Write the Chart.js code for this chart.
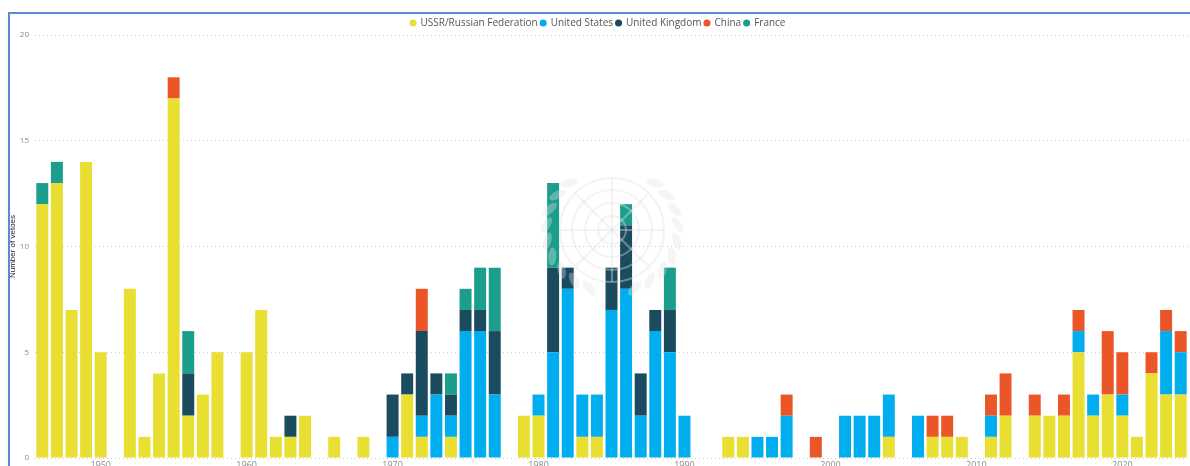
<!DOCTYPE html>
<html>
<head>
<meta charset="utf-8">
<script src="https://cdn.jsdelivr.net/npm/chart.js@4"></script>
<style>
  html, body { margin: 0; padding: 0; background: #fff; }
  #wrap { position: relative; width: 1190px; height: 466px; }
</style>
</head>
<body>
<div id="wrap"><canvas id="vetoChart"></canvas></div>
<script>
const years = [];
for (let y = 1946; y <= 2024; y++) years.push(y);

// vetoes per year, 1946..2024
const ussr = [
  12, 13, 7, 14, 5, 0, 8, 1, 4, 17, 2, 3, 5, 0, // 1946-1959
  5, 7, 1, 1, 2, 0, 1, 0, 1, 0, // 1960-1969
  0, 3, 1, 0, 1, 0, 0, 0, 0, 2, // 1970-1979
  2, 0, 0, 1, 1, 0, 0, 0, 0, 0, // 1980-1989
  0, 0, 0, 1, 1, 0, 0, 0, 0, 0, // 1990-1999
  0, 0, 0, 0, 1, 0, 0, 1, 1, 1, // 2000-2009
  0, 1, 2, 0, 2, 2, 2, 5, 2, 3, // 2010-2019
  2, 1, 4, 3, 3, // 2020-2024
];
const usa = [
  0, 0, 0, 0, 0, 0, 0, 0, 0, 0, 0, 0, 0, 0,
  0, 0, 0, 0, 0, 0, 0, 0, 0, 0,
  1, 0, 1, 3, 1, 6, 6, 3, 0, 0,
  1, 5, 8, 2, 2, 7, 8, 2, 6, 5,
  2, 0, 0, 0, 0, 1, 1, 2, 0, 0,
  0, 2, 2, 2, 2, 0, 2, 0, 0, 0,
  0, 1, 0, 0, 0, 0, 0, 1, 1, 0,
  1, 0, 0, 3, 2,
];
const uk = [
  0, 0, 0, 0, 0, 0, 0, 0, 0, 0, 2, 0, 0, 0,
  0, 0, 0, 1, 0, 0, 0, 0, 0, 0,
  2, 1, 4, 1, 1, 1, 1, 3, 0, 0,
  0, 4, 1, 0, 0, 2, 3, 2, 1, 2,
  0, 0, 0, 0, 0, 0, 0, 0, 0, 0,
  0, 0, 0, 0, 0, 0, 0, 0, 0, 0,
  0, 0, 0, 0, 0, 0, 0, 0, 0, 0,
  0, 0, 0, 0, 0,
];
const china = [
  0, 0, 0, 0, 0, 0, 0, 0, 0, 1, 0, 0, 0, 0,
  0, 0, 0, 0, 0, 0, 0, 0, 0, 0,
  0, 0, 2, 0, 0, 0, 0, 0, 0, 0,
  0, 0, 0, 0, 0, 0, 0, 0, 0, 0,
  0, 0, 0, 0, 0, 0, 0, 1, 0, 1,
  0, 0, 0, 0, 0, 0, 0, 1, 1, 0,
  0, 1, 2, 0, 1, 0, 1, 1, 0, 3,
  2, 0, 1, 1, 1,
];
const france = [
  1, 1, 0, 0, 0, 0, 0, 0, 0, 0, 2, 0, 0, 0,
  0, 0, 0, 0, 0, 0, 0, 0, 0, 0,
  0, 0, 0, 0, 1, 1, 2, 3, 0, 0,
  0, 4, 0, 0, 0, 0, 1, 0, 0, 2,
  0, 0, 0, 0, 0, 0, 0, 0, 0, 0,
  0, 0, 0, 0, 0, 0, 0, 0, 0, 0,
  0, 0, 0, 0, 0, 0, 0, 0, 0, 0,
  0, 0, 0, 0, 0,
];
const yTicks = [0, 5, 10, 15, 20];

const frame = {
  id: 'frame',
  afterLayout(chart) {
    // nudge the legend a bit lower without moving the plot area
    chart.legend.top += 3;
    chart.legend.bottom += 3;
  },
  afterDraw(chart) {
    const c = chart.ctx;
    c.save();
    c.strokeStyle = '#5a8ad0';
    c.lineWidth = 2;
    c.beginPath();
    c.moveTo(9, chart.height);
    c.lineTo(9, 13);
    c.lineTo(chart.width, 13);
    c.stroke();
    c.restore();
  },
};

// faint UN emblem watermark
const watermark = {
  id: 'watermark',
  afterDatasetsDraw(chart) {
    const c = chart.ctx;
    const cx = 612, cy = 230;
    c.save();
    c.strokeStyle = 'rgba(225, 225, 225, 0.4)';
    c.lineWidth = 2;
    [14, 27, 40, 52].forEach(r => {
      c.beginPath();
      c.arc(cx, cy, r, 0, Math.PI * 2);
      c.stroke();
    });
    for (let a = 0; a < 8; a++) {
      const ang = (a * Math.PI) / 4;
      c.beginPath();
      c.moveTo(cx, cy);
      c.lineTo(cx + Math.cos(ang) * 52, cy + Math.sin(ang) * 52);
      c.stroke();
    }
    c.fillStyle = 'rgba(225, 225, 225, 0.35)';
    for (let side = -1; side <= 1; side += 2) {
      for (let k = 0; k < 9; k++) {
        const ang = Math.PI / 2 + side * (0.35 + k * 0.26);
        const x = cx + Math.cos(ang) * 66;
        const y = cy + Math.sin(ang) * 62;
        c.beginPath();
        c.ellipse(x, y, 9, 4, ang + Math.PI / 2 + side * 0.5, 0, Math.PI * 2);
        c.fill();
      }
    }
    c.restore();
  },
};

const colors = ['#e8df32', '#00aeef', '#1b4b5f', '#eb5628', '#1c9e8d'];
const names = ['USSR/Russian Federation', 'United States', 'United Kingdom', 'China', 'France'];
const series = [ussr, usa, uk, china, france];

new Chart(document.getElementById('vetoChart'), {
  type: 'bar',
  data: {
    labels: years,
    datasets: series.map((data, i) => ({
      label: names[i],
      data,
      backgroundColor: colors[i],
      borderWidth: 0,
      categoryPercentage: 1,
      barPercentage: 0.82,
    })),
  },
  options: {
    responsive: true,
    maintainAspectRatio: false,
    animation: false,
    layout: { padding: { left: 8, right: 2, top: 12, bottom: 0 } },
    plugins: {
      legend: {
        position: 'top',
        labels: {
          color: '#555',
          font: { family: 'Open Sans', size: 10 },
          usePointStyle: true,
          pointStyle: 'circle',
          boxWidth: 5,
          boxHeight: 5,
          padding: 3,
        },
      },
      tooltip: { enabled: false },
    },
    scales: {
      x: {
        stacked: true,
        grid: { display: false, drawTicks: false },
        border: { display: false },
        afterFit(scale) {
          scale.height = 8;
          scale.paddingLeft = 0;
          scale.paddingRight = 0;
        },
        ticks: {
          autoSkip: false,
          maxRotation: 0,
          padding: 2,
          color: '#888',
          font: { family: 'Open Sans', size: 9 },
          callback(value) {
            const yr = years[value];
            return yr % 10 === 0 ? String(yr) : '';
          },
        },
      },
      y: {
        stacked: true,
        min: 0,
        max: 20,
        afterBuildTicks(scale) { scale.ticks = yTicks.map(v => ({ value: v })); },
        afterFit(scale) {
          scale.width = 27;
          scale.paddingTop = 0;
          scale.paddingBottom = 0;
        },
        border: { display: false, dash: [1, 3] },
        grid: { color: '#cfcfcf', lineWidth: 1, drawTicks: false },
        title: {
          display: true,
          text: 'Number of vetoes',
          color: '#222',
          padding: 0,
          font: { family: 'Liberation Sans', size: 8 },
        },
        ticks: {
          padding: 6,
          color: '#888',
          font: { family: 'Open Sans', size: 8 },
        },
      },
    },
  },
  plugins: [watermark, frame],
});
</script>
</body>
</html>
